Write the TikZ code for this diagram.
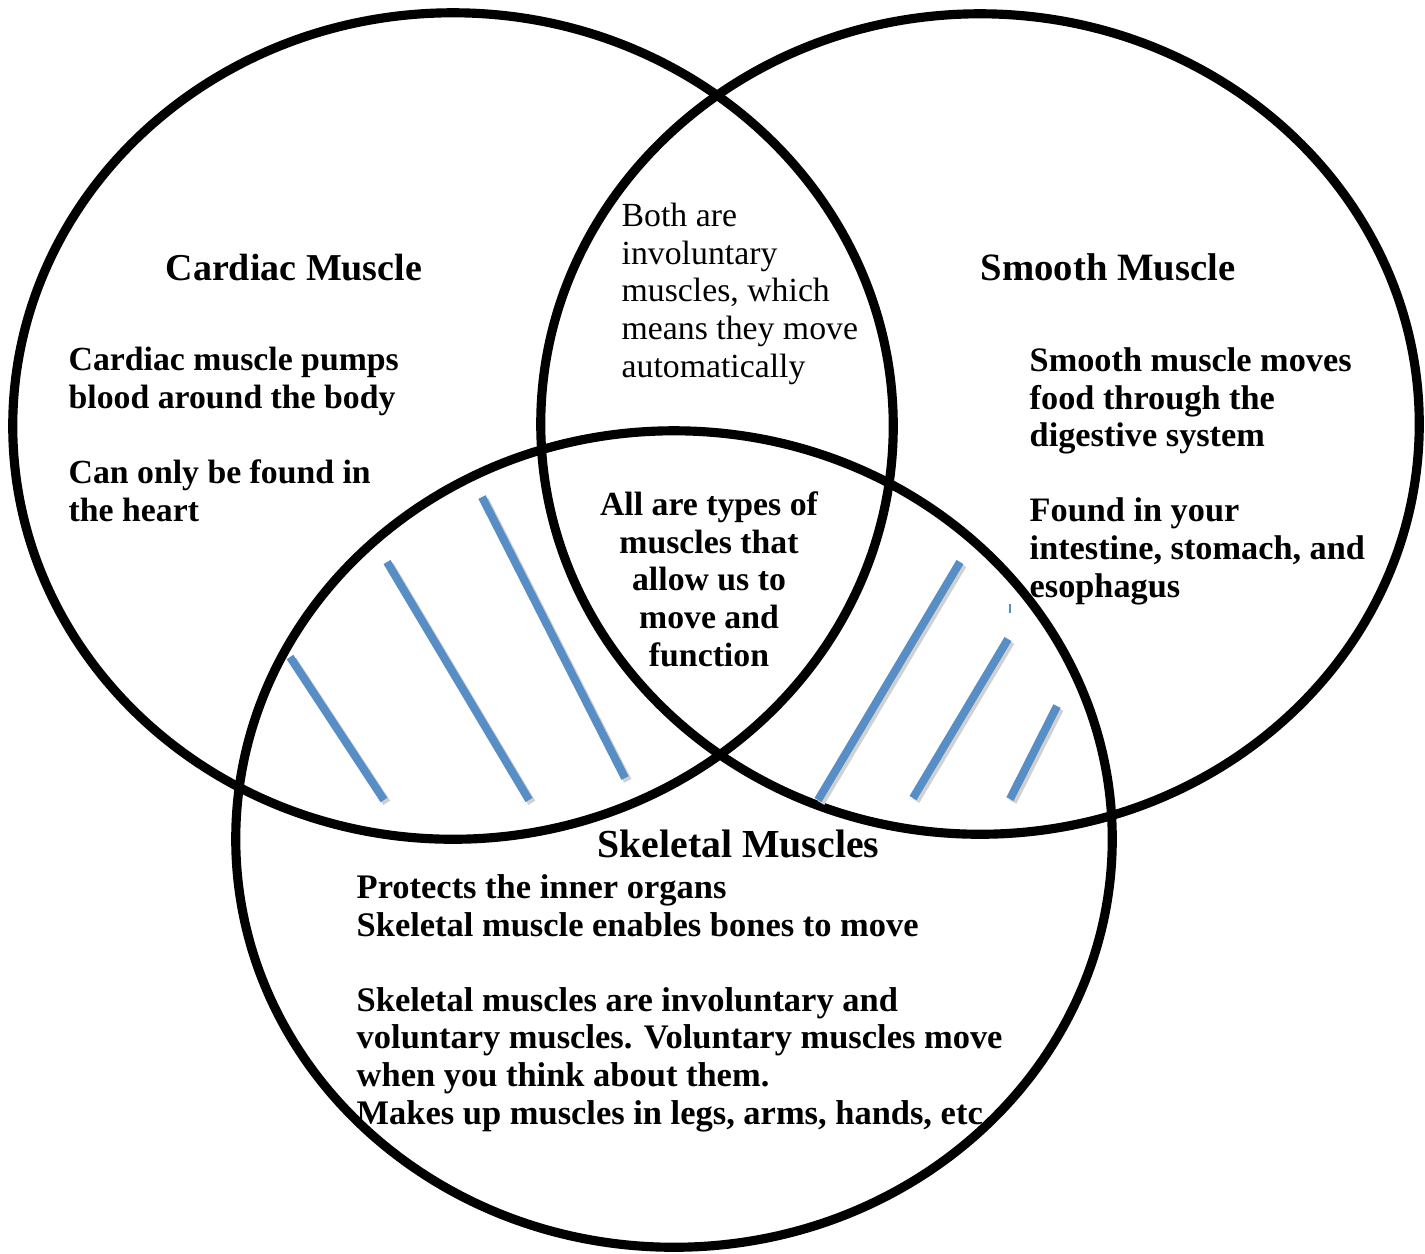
\documentclass[tikz,border=0pt]{standalone}
\usepackage{fontspec}
\setmainfont{Liberation Serif}
\usepackage{tikz}
\usetikzlibrary{positioning, shapes.geometric}
\definecolor{hatchblue}{RGB}{88,142,198}
\tikzset{
    ring/.style = {ellipse, draw, line width=2.6pt, inner sep=0pt},
    heading/.style = {font=\bfseries\fontsize{10.8}{12}\selectfont, inner sep=0pt, anchor=base west},
    facts/.style = {font=\bfseries\fontsize{9.6}{10.67}\selectfont, align=left, inner sep=0pt, anchor=base west},
    hatch/.style = {draw=hatchblue, line width=2.3pt,
                        preaction={draw=black!18, line width=2.3pt, transform canvas={shift={(0.8pt,-0.8pt)}}}}
}

\begin{document}
\begin{tikzpicture}[x=0.01cm, y=-0.01cm]
		\useasboundingbox (0,0) rectangle (1425,1253);
		% the three sets
		\node (cardiac) [ring, minimum width=8.8cm, minimum height=8.26cm] at (453,426) {};
		\node (smooth) [ring, minimum width=8.78cm, minimum height=8.2cm] at (980,424) {};
		\node (skeletal) [ring, minimum width=8.76cm, minimum height=8.16cm] at (674,839) {};
		% hatching where skeletal overlaps the others
		\draw [hatch] (290,657) -- (384,800);
		\draw [hatch] (387,562) -- (529,800);
		\draw [hatch] (482,497) -- (625,778);
		\draw [hatch] (960,562) -- (818,800);
		\draw [hatch] (1008,639) -- (913,798);
		\draw [hatch] (1057,706) -- (1010,799);
		\draw [hatchblue, line width=0.3pt] (1010,604) -- (1010,613);
		% headings
		\node (cardiactitle) [heading] at (165,280) {Cardiac Muscle};
		\node (smoothtitle) [heading, font=\bfseries\fontsize{11}{12}\selectfont] at (980,280) {Smooth Muscle};
		\node (skeletaltitle) [heading, font=\bfseries\fontsize{11.3}{12}\selectfont] at (597,857) {Skeletal Muscles};
		% facts (placed by the baseline of their last line)
		\node (cardiacfacts) [facts] at (68,521) {Cardiac muscle pumps\\blood around the body\\[10.67pt]Can only be found in\\the heart};
		\node (bothfacts) [facts, font=\fontsize{9.6}{10.67}\selectfont] at (621,377) {Both are\\involuntary\\muscles, which\\means they move\\automatically};
		\node (smoothfacts) [facts, font=\bfseries\fontsize{9.75}{10.67}\selectfont] at (1029,597) {Smooth muscle moves\\food through the\\digestive system\\[10.67pt]Found in your\\intestine, stomach, and\\esophagus};
		\node (allfacts) [facts, align=center, anchor=base] at (709,666) {All are types of\\muscles that\\allow us to\\move and\\function};
		\node (skeletalfacts) [facts, font=\bfseries\fontsize{9.8}{10.67}\selectfont] at (356,1124) {Protects the inner organs\\Skeletal muscle enables bones to move\\[10.67pt]Skeletal muscles are involuntary and\\voluntary muscles. Voluntary muscles move\\when you think about them.\\Makes up muscles in legs, arms, hands, etc};
	\end{tikzpicture}
\end{document}
